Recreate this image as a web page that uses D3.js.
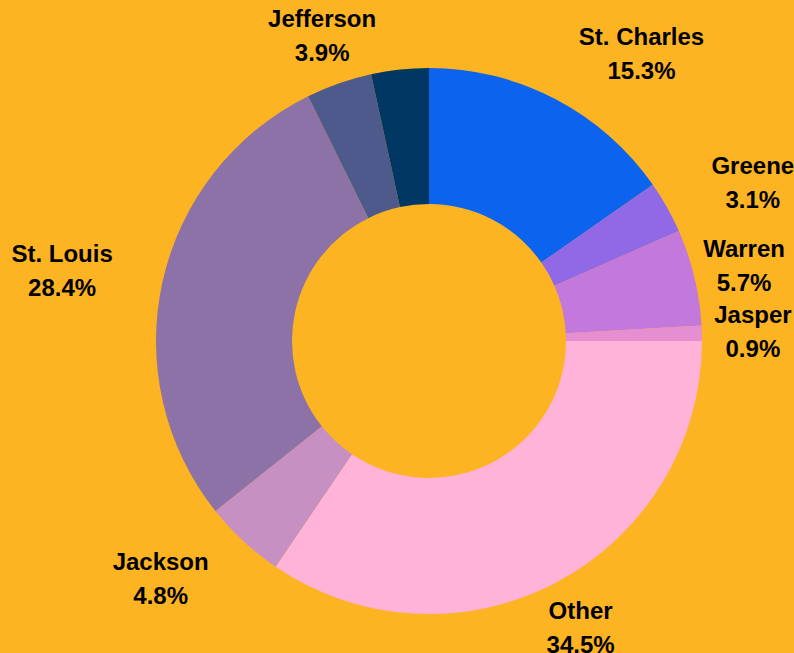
<!DOCTYPE html>
<html>
<head>
<meta charset="utf-8">
<script src="https://cdn.jsdelivr.net/npm/d3@7"></script>
<style>
  html, body { margin: 0; padding: 0; background: #fdb422; }
  svg { display: block; }
</style>
</head>
<body>
<svg id="donut" width="794" height="653"></svg>
<script>
// slices, clockwise from 12 o'clock
const counties = ["St. Charles", "Greene", "Warren", "Jasper", "Other", "Jackson", "St. Louis", "Jefferson", ""];
const shares = [15.3, 3.1, 5.7, 0.9, 34.5, 4.8, 28.4, 3.9, 3.4];
const colors = ["#0b63ee", "#9168e6", "#c378dc", "#e58ed2", "#ffb3d9", "#c690c2", "#8c72a6", "#4e5a8b", "#003763"];

const svg = d3.select("#donut");
const cx = 429, cy = 341;
const outerR = 273, innerR = 137, labelR = 324;

const data = counties.map((name, i) => ({ name, value: shares[i], color: colors[i] }));

const pie = d3.pie().value(d => d.value).sort(null);
const arc = d3.arc().innerRadius(innerR).outerRadius(outerR);

const g = svg.append("g").attr("transform", `translate(${cx},${cy})`);

const arcs = pie(data);

g.selectAll("path")
  .data(arcs)
  .enter()
  .append("path")
  .attr("d", arc)
  .attr("fill", d => d.data.color);

// which side of the label block touches the anchor point
function anchorFor(a) {
  const deg = a * 180 / Math.PI;
  if (deg >= 10 && deg < 70) return "start";
  if (deg >= 200 && deg <= 330) return "end";
  return "middle";
}

const labels = g.selectAll("g.lbl")
  .data(arcs.filter(d => d.data.name))
  .enter()
  .append("g")
  .attr("class", "lbl");

const txt = labels.append("text")
  .attr("font-family", "'Liberation Sans', Arial, sans-serif")
  .attr("font-weight", "bold")
  .attr("font-size", 24)
  .attr("fill", "#000")
  .attr("text-anchor", "middle");

txt.append("tspan")
  .attr("x", 0)
  .attr("y", -8.5)
  .text(d => d.data.name);

txt.append("tspan")
  .attr("x", 0)
  .attr("y", 25.5)
  .text(d => d3.format(".1f")(d.data.value) + "%");

// lines are centred on each other; the block is pushed out by half its width
labels.attr("transform", function (d) {
  const a = (d.startAngle + d.endAngle) / 2;
  const bw = this.getBBox().width;
  const side = anchorFor(a);
  const shift = side === "start" ? bw / 2 : side === "end" ? -bw / 2 : 0;
  return `translate(${labelR * Math.sin(a) + shift},${-labelR * Math.cos(a)})`;
});
</script>
</body>
</html>
